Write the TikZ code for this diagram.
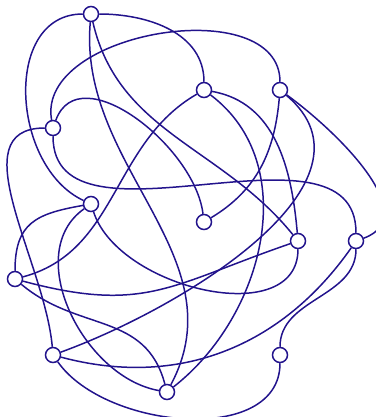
\documentclass[tikz,border=0pt]{standalone}
\usepackage{xcolor}
\usepackage{tikz}
\definecolor{gnavy}{HTML}{22138C}

\begin{document}
\begin{tikzpicture}[x=1bp,y=1bp,
  vertex/.style={circle,draw=gnavy,fill=white,line width=1.5pt,minimum size=15bp,inner sep=0pt},
  link/.style={draw=gnavy,line width=1.5pt}]
  \useasboundingbox (0,0) rectangle (376,417);
  \node[vertex] (n1)  at (91,403) {};
  \node[vertex] (n2)  at (204,327) {};
  \node[vertex] (n3)  at (280,327) {};
  \node[vertex] (n4)  at (53,289) {};
  \node[vertex] (n5)  at (91,213) {};
  \node[vertex] (n6)  at (204,195) {};
  \node[vertex] (n7)  at (298,176) {};
  \node[vertex] (n8)  at (356,176) {};
  \node[vertex] (n9)  at (15,138) {};
  \node[vertex] (n10) at (53,62) {};
  \node[vertex] (n11) at (280,62) {};
  \node[vertex] (n12) at (167,25) {};
  % curved links
  \draw[link] (n1) to[out=0,in=90] (n2);
  \draw[link] (n1) to[out=180,in=155,looseness=1.1] (n5);
  \draw[link] (n1) to[out=-77,in=129] (n7);
  \draw[link] (n1) to[out=-95,in=62] (n12);
  \draw[link] (n2) to[out=210,in=15] (n9);
  \draw[link] (n2) to[out=-10,in=95] (n7);
  \draw[link] (n2) to[out=-37,in=38] (n12);
  \draw[link] (n3) to[out=90,in=100] (n4);
  \draw[link] (n3) to[out=-95,in=31] (n6);
  \draw[link] (n3) to[out=-36,in=20] (n8);
  \draw[link] (n3) to[out=-40,in=20] (n10);
  \draw[link] (n4) to[out=70,in=97] (n6);
  \draw[link] (n4) to[out=180,in=95] (n10);
  \draw[link] (n4) to[out=-90,in=90] (n8);
  \draw[link] (n5) to[out=190,in=90,looseness=1.3] (n9);
  \draw[link] (n5) to[out=215,in=170] (n12);
  \draw[link] (n5) to[out=-72,in=-90] (n7);
  \draw[link] (n9) to[out=-15,in=199,looseness=1.2] (n7);
  \draw[link] (n9) to[out=-40,in=105,looseness=1.1] (n12);
  \draw[link] (n10) to[out=-15,in=235] (n8);
  \draw[link] (n10) to[out=-55,in=-90,looseness=.95] (n11);
  \draw[link] (n8) to[out=-90,in=90] (n11);
\end{tikzpicture}
\end{document}
